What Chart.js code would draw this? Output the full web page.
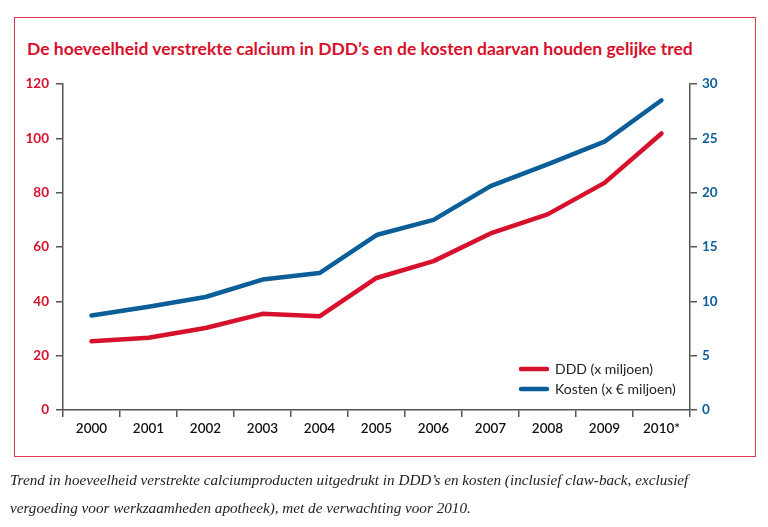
<!DOCTYPE html>
<html>
<head>
<meta charset="utf-8">
<script src="https://cdn.jsdelivr.net/npm/chart.js@4"></script>
<style>
  html, body { margin: 0; padding: 0; background: #fff; }
  #wrap { position: relative; width: 768px; height: 527px; overflow: hidden; }
  #kader { position: absolute; left: 14px; top: 17px; width: 740px; height: 438px; border: 1px solid #e0384e; }
  #titel { position: absolute; left: 27px; top: 38px; font: bold 17.5px Lato; color: #d7102b; white-space: nowrap; }
  #grafiek { position: absolute; left: 0; top: 0; }
  #onderschrift { position: absolute; left: 10px; top: 466px; font: italic 15.2px "Liberation Serif"; color: #222; line-height: 28px; white-space: nowrap; }
</style>
</head>
<body>
<div id="wrap">
  <div id="kader"></div>
  <div id="titel">De hoeveelheid verstrekte calcium in DDD’s en de kosten daarvan houden gelijke tred</div>
  <canvas id="grafiek" width="768" height="527"></canvas>
  <div id="onderschrift">Trend in hoeveelheid verstrekte calciumproducten uitgedrukt in DDD’s en kosten (inclusief claw-back, exclusief<br>vergoeding voor werkzaamheden apotheek), met de verwachting voor 2010.</div>
</div>
<script>
// jaren en reeksen
const jaren = ['2000', '2001', '2002', '2003', '2004', '2005', '2006', '2007', '2008', '2009', '2010*'];
const ddd = [25.3, 26.6, 30.2, 35.4, 34.5, 48.6, 54.8, 65.0, 72.0, 83.6, 101.8];     // x miljoen (links)
const kosten = [8.7, 9.5, 10.4, 12.0, 12.6, 16.1, 17.5, 20.6, 22.6, 24.7, 28.5];    // x € miljoen (rechts)
const reeksNamen = ['DDD (x miljoen)', 'Kosten (x € miljoen)'];
const linksAs = { min: 0, max: 120, stap: 20 };
const rechtsAs = { min: 0, max: 30, stap: 5 };

const ROOD = '#d7102b';
const BLAUW = '#0b5e98';
const ASKLEUR = '#555';

// legenda rechtsonder in het plotvlak
const legendaPlugin = {
    id: 'legenda',
    afterDraw(chart) {
        const ctx = chart.ctx;
        ctx.save();
        chart.data.datasets.forEach((ds, i) => {
            const y = 369 + i * 20;
            ctx.strokeStyle = ds.borderColor;
            ctx.lineWidth = 4.5;
            ctx.lineCap = 'round';
            ctx.beginPath();
            ctx.moveTo(521, y);
            ctx.lineTo(547, y);
            ctx.stroke();
            ctx.fillStyle = '#222';
            ctx.font = '14px Lato';
            ctx.textBaseline = 'middle';
            ctx.fillText(ds.label, 555, y);
        });
        ctx.restore();
    }
};

const asGrid = { drawOnChartArea: false, drawTicks: true, tickLength: 7, color: ASKLEUR, lineWidth: 1.5 };
const asRand = { display: true, color: ASKLEUR, width: 1.5 };

new Chart(document.getElementById('grafiek'), {
    type: 'line',
    data: {
        labels: jaren,
        datasets: [
            { label: reeksNamen[0], data: ddd, yAxisID: 'y', borderColor: ROOD, backgroundColor: ROOD },
            { label: reeksNamen[1], data: kosten, yAxisID: 'y2', borderColor: BLAUW, backgroundColor: BLAUW }
        ]
    },
    options: {
        responsive: false,
        animation: false,
        devicePixelRatio: 1,
        layout: { padding: { top: 84, bottom: 87, left: 0, right: 0 } },
        elements: {
            line: { borderWidth: 4.5, tension: 0, borderCapStyle: 'round', borderJoinStyle: 'round' },
            point: { radius: 0 }
        },
        plugins: { legend: { display: false }, tooltip: { enabled: false } },
        scales: {
            x: {
                offset: true,
                grid: Object.assign({ offset: true }, asGrid),
                border: asRand,
                ticks: { color: '#111', font: { family: 'Lato', size: 13.5, weight: '600' }, padding: 4, maxRotation: 0, autoSkip: false },
                afterFit: s => { s.height = 30; }
            },
            y: {
                position: 'left',
                min: linksAs.min, max: linksAs.max,
                grid: asGrid,
                border: asRand,
                ticks: { stepSize: linksAs.stap, color: ROOD, font: { family: 'Lato', size: 13.5, weight: 'bold' }, padding: 7 },
                afterFit: s => { s.width = 63; }
            },
            y2: {
                position: 'right',
                min: rechtsAs.min, max: rechtsAs.max,
                grid: asGrid,
                border: asRand,
                ticks: { stepSize: rechtsAs.stap, color: BLAUW, font: { family: 'Lato', size: 13.5, weight: 'bold' }, padding: 5 },
                afterFit: s => { s.width = 78; }
            }
        }
    },
    plugins: [legendaPlugin]
});
</script>
</body>
</html>
